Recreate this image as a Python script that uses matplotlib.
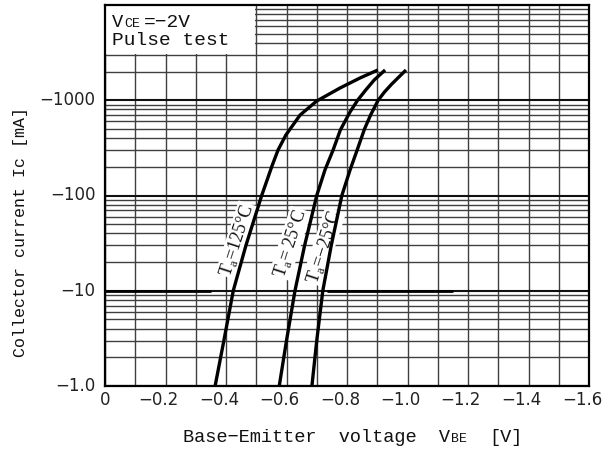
import matplotlib
matplotlib.use("Agg")
import matplotlib.pyplot as plt
from matplotlib.patches import Rectangle
from matplotlib.ticker import FixedLocator, NullFormatter

# ---------------- data ----------------
# Ta = 125 degC
ic_125 = [1, 3, 10, 30, 100, 204, 300, 432, 700, 982, 1345, 1713, 2078]
vbe_125 = [-0.364, -0.393, -0.424, -0.466, -0.518, -0.552, -0.572, -0.598, -0.645,
           -0.700, -0.777, -0.843, -0.902]
# Ta = 25 degC
ic_25 = [1, 3, 10, 30, 100, 185, 300, 487, 753, 1000, 1282, 1632, 2078]
vbe_25 = [-0.576, -0.600, -0.628, -0.660, -0.700, -0.727, -0.754, -0.778, -0.810,
          -0.835, -0.862, -0.890, -0.926]
# Ta = -25 degC
ic_m25 = [1, 3, 10, 30, 100, 185, 316, 500, 700, 1000, 1222, 1480, 2078]
vbe_m25 = [-0.684, -0.700, -0.720, -0.748, -0.783, -0.810, -0.836, -0.858, -0.878,
           -0.903, -0.924, -0.948, -0.995]

curve_labels = ["T$_{\\rm a}$=125°C", "T$_{\\rm a}$= 25°C", "T$_{\\rm a}$=−25°C"]
label_v = [-0.437, -0.612, -0.723]
label_i = [34, 31.5, 29]

x_ticks = [0, -0.2, -0.4, -0.6, -0.8, -1.0, -1.2, -1.4, -1.6]
x_ticklabels = ["0", "−0.2", "−0.4", "−0.6", "−0.8", "−1.0", "−1.2", "−1.4", "−1.6"]
x_minor = [-0.1, -0.3, -0.5, -0.7, -0.9, -1.1, -1.3, -1.5]
y_ticks = [1, 10, 100, 1000]
y_ticklabels = ["−1.0", "−10", "−100", "−1000"]
y_minor = [k * 10 ** d for d in range(4) for k in range(2, 10)]

# ---------------- figure ----------------
plt.rcParams["mathtext.fontset"] = "custom"
plt.rcParams["mathtext.rm"] = "Liberation Serif"

W, H = 616, 450
fig = plt.figure(figsize=(W / 100, H / 100), dpi=100)
ax = fig.add_axes([105 / W, 64 / H, 484 / W, 381 / H])

ax.set_yscale("log")
ax.set_xlim(0, -1.6)
ax.set_ylim(1, 1e4)

ax.xaxis.set_major_locator(FixedLocator(x_ticks))
ax.xaxis.set_minor_locator(FixedLocator(x_minor))
ax.yaxis.set_major_locator(FixedLocator(y_ticks))
ax.yaxis.set_minor_locator(FixedLocator(y_minor))
ax.xaxis.set_major_formatter(NullFormatter())
ax.yaxis.set_major_formatter(NullFormatter())
ax.yaxis.set_minor_formatter(NullFormatter())
ax.tick_params(which="both", length=0)

gcol = "#3f3f3f"
ax.grid(which="both", axis="x", color=gcol, lw=1.0)
ax.grid(which="minor", axis="y", color=gcol, lw=1.0)
ax.grid(which="major", axis="y", color="#111111", lw=1.5)
ax.set_axisbelow(True)

for sp in ax.spines.values():
    sp.set_linewidth(1.6)
    sp.set_color("black")

# heavier segments of the 10 mA line
ax.hlines(10, 0, -0.35, color="black", lw=2.0, zorder=1.8)
ax.hlines(10, -0.735, -1.15, color="black", lw=2.0, zorder=1.8)

# curves
for v, i in ((vbe_125, ic_125), (vbe_25, ic_25), (vbe_m25, ic_m25)):
    ax.plot(v, i, color="black", lw=2.4, solid_joinstyle="round",
            solid_capstyle="butt", zorder=4)

# curve labels
for s, v, i in zip(curve_labels, label_v, label_i):
    ax.text(v, i, s, rotation=72, ha="center", va="center",
            family="Liberation Serif", fontsize=13, color="#111111",
            bbox=dict(fc="white", ec="none", pad=0.6), zorder=3)

# white box with conditions
ax.add_patch(Rectangle((0, 3080), -0.497, 7000, fc="white", ec="none", zorder=2.5))

def ftext(xp, yp, s, **kw):
    return fig.text(xp / W, 1 - yp / H, s, **kw)

mono = ["Liberation Mono", "DejaVu Sans Mono"]
ftext(112, 27, "V", family=mono, fontsize=13.5, va="baseline", ha="left", color="#111111")
ftext(124, 27, "CE", family=mono, fontsize=9.5, va="baseline", ha="left", color="#111111")
ftext(144, 27, "=−2V", family=mono, fontsize=14, va="baseline", ha="left", color="#111111")
ftext(112, 45, "Pulse test", family=mono, fontsize=14, va="baseline", ha="left", color="#111111")

# x tick labels: numeric part centred on the tick, minus sign hanging left
ax_x0, ax_x1 = 105, 589
for xv, lab in zip(x_ticks, x_ticklabels):
    px = ax_x0 + (ax_x1 - ax_x0) * (xv / -1.6)
    off = 13 if lab.startswith("−") else 5.5
    ftext(px + off, 391, lab, family="DejaVu Sans", fontsize=12, ha="right", va="top",
          color="#222222")

# y tick labels
for yv, lab in zip(y_ticks, y_ticklabels):
    ax.text(-0.02, yv, lab, transform=ax.get_yaxis_transform(), ha="right", va="center",
            family="DejaVu Sans", fontsize=12, color="#222222")

# axis titles
fs_big = 13.4
adv = 0.6 * fs_big * 100 / 72
x0 = 183
part1 = "Base−Emitter  voltage  V"
ftext(x0, 442, part1, family=mono, fontsize=fs_big, ha="left", va="baseline", color="#111111")
x1 = x0 + len(part1) * adv
ftext(x1, 442, "BE", family=mono, fontsize=9.5, ha="left", va="baseline", color="#111111")
x2 = x1 + 2 * 0.6 * 9.5 * 100 / 72 + 2 * adv
ftext(x2, 442, "[V]", family=mono, fontsize=fs_big, ha="left", va="baseline", color="#111111")

ftext(21, 232, "Collector current Ic [mA]", family=mono, fontsize=12, rotation=90,
      ha="center", va="center", color="#111111")

fig.savefig("out.png", dpi=100, facecolor="white")
